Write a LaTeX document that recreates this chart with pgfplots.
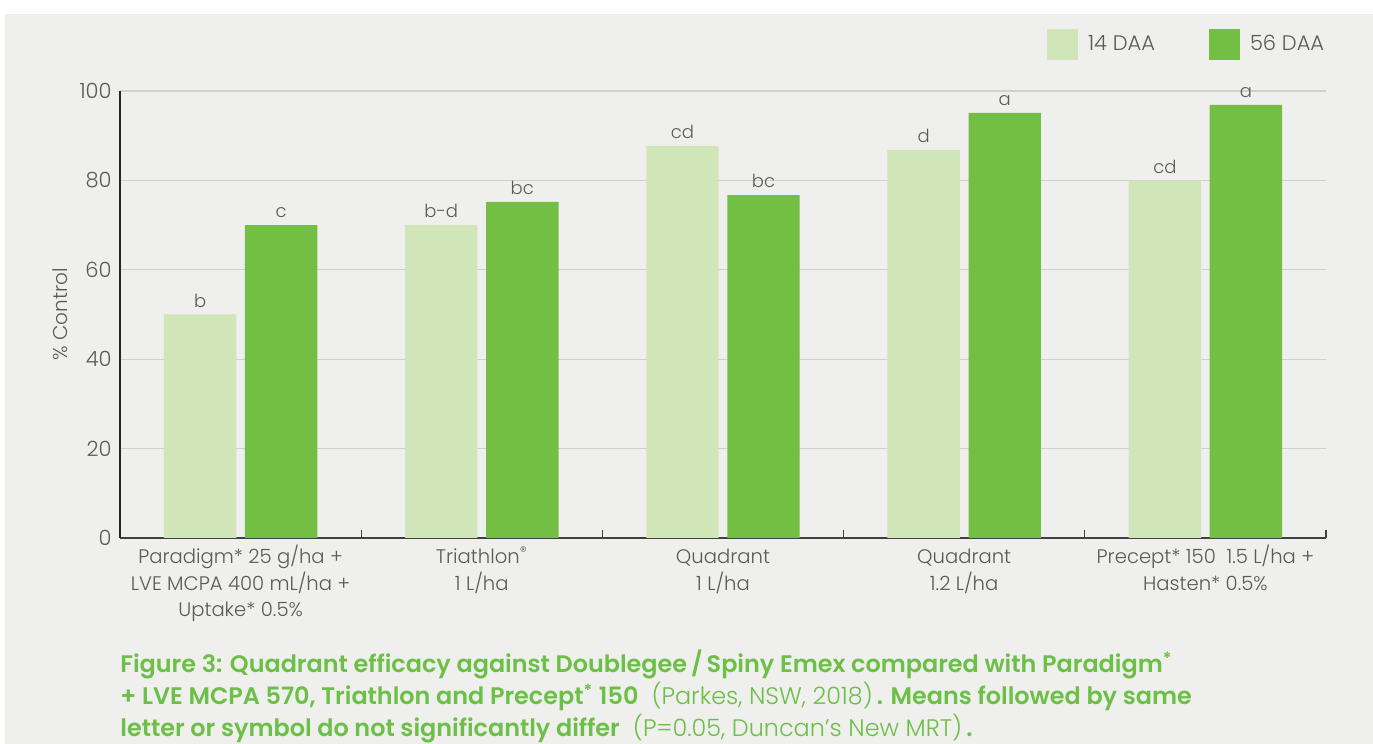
\documentclass[border=0pt]{standalone}
\usepackage{pgfplots}
\pgfplotsset{compat=1.18}
\usepackage{pgfplotstable}
\usepackage{fontspec}
\setmainfont{Poppins}[UprightFont={* Light},BoldFont={* SemiBold}]
\definecolor{bg}{HTML}{EFEFED}
\definecolor{lightg}{HTML}{D0E6B8}
\definecolor{darkg}{HTML}{72BF44}
\definecolor{capg}{HTML}{6CBF47}
\definecolor{txt}{HTML}{5A5A5A}
\definecolor{gridc}{HTML}{D0D0D0}
\pgfplotstableread{
x y lab
0 50 b
1 70 b-d
2 87.7 cd
3 86.8 d
4 80 cd
}\tfourteen
\pgfplotstableread{
x y lab
0 70 c
1 75.2 bc
2 76.7 bc
3 95.1 a
4 96.9 a
}\tfiftysix
\begin{document}
\begin{tikzpicture}[x=1pt,y=1pt]
\useasboundingbox (0,0) rectangle (686.5,372);
\fill[white] (0,0) rectangle (686.5,372);
\fill[bg] (2.5,0) rectangle (686.5,365);
\begin{axis}[
  at={(60pt,103pt)}, anchor=south west,
  scale only axis, width=603pt, height=223.5pt,
  xmin=-0.5, xmax=4.5, ymin=0, ymax=100,
  /pgf/number format/assume math mode=true,
  axis x line*=bottom, axis y line*=left,
  axis line style={-},
  x axis line style={draw=black!75, line width=0.6pt},
  y axis line style={draw=black!85, line width=0.6pt},
  major tick length=0pt,
  xtick={0,1,2,3,4},
  xticklabels={
    {\strut Paradigm* 25 g/ha +\\LVE MCPA 400 mL/ha +\\Uptake* 0.5\%},
    {\strut Triathlon\textsuperscript{®}\\1 L/ha},
    {\strut Quadrant\\1 L/ha},
    {\strut Quadrant\\1.2 L/ha},
    {\strut Precept* 150~~1.5 L/ha +\\Hasten* 0.5\%}},
  xticklabel style={align=center, inner sep=0pt, yshift=-3.3pt, text=txt,
    font=\fontsize{9.8}{13.25}\selectfont},
  extra x ticks={0.5,1.5,2.5,3.5,4.5},
  extra x tick labels={},
  extra x tick style={major tick length=4pt, tick align=inside,
    tick style={draw=black!75, line width=0.6pt}},
  ytick={0,20,40,60,80,100},
  ymajorgrids,
  grid style={draw=gridc, line width=0.6pt},
  yticklabel style={inner sep=0pt, xshift=-4pt, text=txt,
    font=\fontsize{10.5}{12}\selectfont},
  every axis y label/.style={at={(axis description cs:-0.04975,0.5)},
    rotate=90, anchor=center, text=txt, font=\fontsize{10}{12}\selectfont},
  ylabel={\% Control},
  legend style={at={(rel axis cs:0.7687,1.1387)}, anchor=north west,
    draw=none, fill=none, inner sep=0pt, outer sep=0pt, legend columns=2,
    font=\fontsize{10.5}{12}\selectfont, text=txt,
    nodes={inner sep=0pt},
    /tikz/every odd column/.append style={column sep=5pt},
    /tikz/every even column/.append style={column sep=27pt}},
]
\addplot[ybar, bar width=0.3, bar shift=-0.168, fill=lightg, draw=none,
  nodes near coords, point meta=explicit symbolic,
  every node near coord/.append style={xshift=-20.25pt, text=txt, font=\fontsize{9}{10}\selectfont},
  legend image code/.code={\fill[lightg] (0pt,-7.75pt) rectangle (15.5pt,7.75pt);}]
  table[x=x,y=y,meta=lab]{\tfourteen};
\addlegendentry{14 DAA}
\addplot[ybar, bar width=0.3, bar shift=0.168, fill=darkg, draw=none,
  nodes near coords, point meta=explicit symbolic,
  every node near coord/.append style={xshift=20.25pt, text=txt, font=\fontsize{9}{10}\selectfont},
  legend image code/.code={\fill[darkg] (0pt,-7.75pt) rectangle (15.5pt,7.75pt);}]
  table[x=x,y=y,meta=lab]{\tfiftysix};
\addlegendentry{56 DAA}
\end{axis}
\begin{scope}[every node/.style={anchor=base west, inner sep=0pt, text=capg,
    font=\fontsize{11.95}{13}\selectfont}]
\node at (60,35.5) {\textbf{Figure 3: Quadrant efficacy against Doublegee\,/\,Spiny Emex compared with Paradigm\textsuperscript{*}}};
\node at (60,19.5) {\textbf{+ LVE MCPA 570, Triathlon and Precept\textsuperscript{*} 150}\ \ (Parkes, NSW, 2018)\,\textbf{. Means followed by same}};
\node at (60,3.8) {\textbf{letter or symbol do not significantly differ}\ \ (P=0.05, Duncan’s New MRT)\,\textbf{.}};
\end{scope}
\end{tikzpicture}
\end{document}
